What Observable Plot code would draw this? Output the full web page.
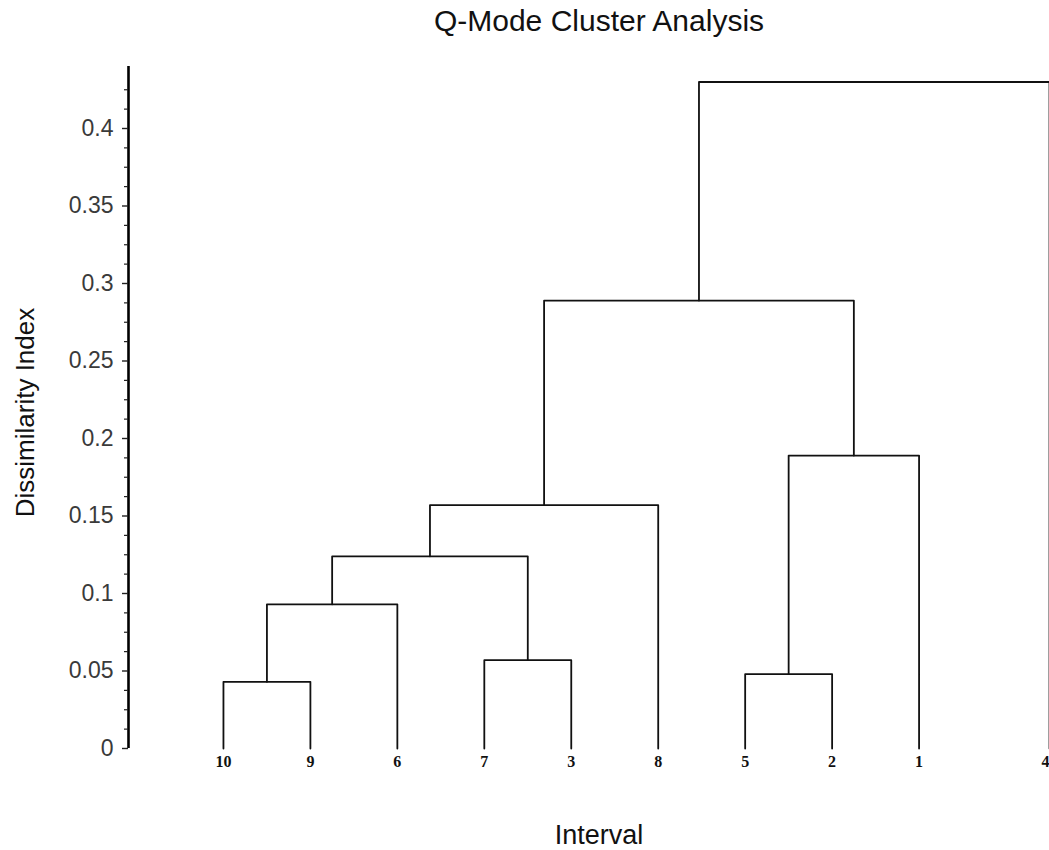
<!DOCTYPE html>
<html>
<head>
<meta charset="utf-8">
<script src="https://cdn.jsdelivr.net/npm/d3@7"></script>
<script src="https://cdn.jsdelivr.net/npm/@observablehq/plot@0.6"></script>
<style>
  html, body { margin: 0; padding: 0; background: #fff; }
  svg { display: block; }
</style>
</head>
<body>
<div id="chart"></div>
<script>
// ---- data ----
const titleText = "Q-Mode Cluster Analysis";
const xLabel = "Interval";
const yLabel = "Dissimilarity Index";

// leaf order along the x axis, and their positions (leaf order index)
const leaves = ["10", "9", "6", "7", "3", "8", "5", "2", "1", "4"];
const leafPos = [1, 2, 3, 4, 5, 6, 7, 8, 9, 10.5];

// merges: cluster id, left child, right child, dissimilarity
const mergeId    = ["C1", "C2", "C3", "C4", "C5", "C6", "C7", "C8", "C9"];
const mergeLeft  = ["10", "7",  "5",  "C1", "C4", "C5", "C3", "C6", "C8"];
const mergeRight = ["9",  "3",  "2",  "6",  "C2", "8",  "1",  "C7", "4"];
const mergeHeight = [0.043, 0.057, 0.048, 0.093, 0.124, 0.157, 0.189, 0.289, 0.43];

const yTicks = [0, 0.05, 0.1, 0.15, 0.2, 0.25, 0.3, 0.35, 0.4];
const yTickLabels = ["0", "0.05", "0.1", "0.15", "0.2", "0.25", "0.3", "0.35", "0.4"];
const yMinorTicks = [0.0125, 0.025, 0.0375, 0.0625, 0.075, 0.0875, 0.1125, 0.125, 0.1375,
  0.1625, 0.175, 0.1875, 0.2125, 0.225, 0.2375, 0.2625, 0.275, 0.2875, 0.3125, 0.325, 0.3375,
  0.3625, 0.375, 0.3875, 0.4125, 0.425];

// ---- build dendrogram paths from merges ----
const nodes = new Map();
leaves.forEach((l, i) => nodes.set(l, {x: leafPos[i], y: 0}));
const paths = [];
mergeId.forEach((id, i) => {
  const a = nodes.get(mergeLeft[i]), b = nodes.get(mergeRight[i]), h = mergeHeight[i];
  paths.push({id, x: a.x, y: a.y}, {id, x: a.x, y: h}, {id, x: b.x, y: h}, {id, x: b.x, y: b.y});
  nodes.set(id, {x: (a.x + b.x) / 2, y: h});
});
const leafData = leaves.map((l, i) => ({label: l, x: leafPos[i], y: 0}));
const leafInner = leafData.slice(0, -1);
const leafEdge = leafData.slice(-1);

const xDomain = [-0.092, 10.5];
const font = "'Liberation Sans', Arial, Helvetica, sans-serif";
const serif = "'Liberation Serif', 'Times New Roman', serif";

const chart = Plot.plot({
  width: 1049,
  height: 850,
  marginLeft: 128,
  marginRight: 0,
  marginTop: 66,
  marginBottom: 102,
  style: {fontFamily: font, background: "#fff", overflow: "hidden"},
  x: {domain: xDomain, axis: null},
  y: {domain: [0, 0.44], axis: null},
  marks: [
    // axis line
    Plot.ruleX([xDomain[0]], {stroke: "#000", strokeWidth: 2.6}),
    // minor ticks
    Plot.axisY({ticks: yMinorTicks, tickSize: 4, tickFormat: () => "", stroke: "#222",
      strokeWidth: 1.2, label: null}),
    // major ticks
    Plot.axisY({
      ticks: yTicks, tickSize: 6, tickPadding: 9, fontSize: 23, stroke: "#222", strokeWidth: 1.4,
      fill: "#3a3a3a",
      tickFormat: d => yTickLabels[yTicks.indexOf(d)] ?? String(d),
      label: null
    }),
    // dendrogram
    Plot.line(paths, {x: "x", y: "y", z: "id", stroke: "#111", strokeWidth: 1.8, curve: "linear"}),
    // leaf labels
    Plot.text(leafInner, {x: "x", y: "y", text: "label", dy: 13, fontSize: 16,
      fontFamily: serif, fontWeight: "bold", fill: "#111"}),
    Plot.text(leafEdge, {x: "x", y: "y", text: "label", dy: 13, fontSize: 16, textAnchor: "end",
      fontFamily: serif, fontWeight: "bold", fill: "#111"}),
    // title
    Plot.text([titleText], {frameAnchor: "top", textAnchor: "middle", dx: 10, dy: -36,
      lineAnchor: "bottom", fontSize: 30, fill: "#111"}),
    // x label
    Plot.text([xLabel], {frameAnchor: "bottom", textAnchor: "middle", dx: 10, dy: 95,
      lineAnchor: "bottom", fontSize: 27, fill: "#111"}),
    // y label
    Plot.text([yLabel], {frameAnchor: "left", textAnchor: "middle", dx: -103, dy: 5, rotate: -90,
      lineAnchor: "middle", fontSize: 26, fill: "#111"})
  ]
});
document.getElementById("chart").appendChild(chart);
</script>
</body>
</html>
